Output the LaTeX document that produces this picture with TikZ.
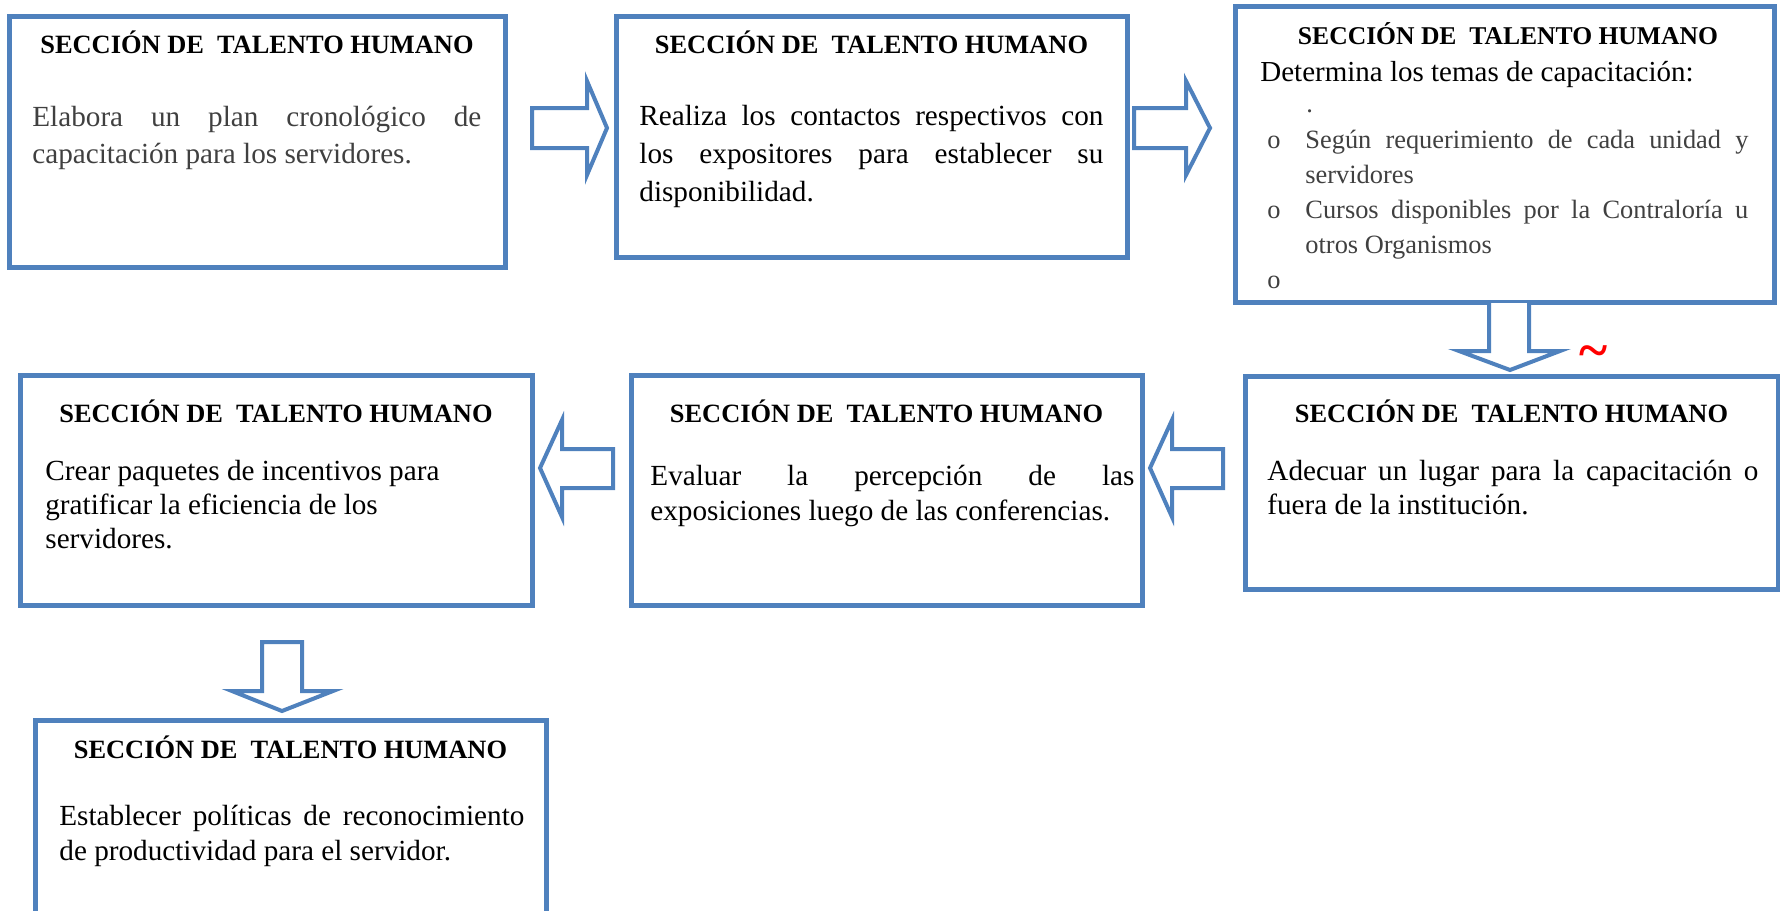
\documentclass[tikz,border=0pt]{standalone}
\usepackage{fontspec}
\setmainfont{Liberation Serif}
\definecolor{bblue}{HTML}{4F81BD}
\definecolor{txtgray}{HTML}{404040}
\hyphenpenalty=10000
\exhyphenpenalty=10000
\hbadness=10000
\begin{document}
\begin{tikzpicture}[x=0.5pt,y=-0.5pt,
  box/.style={draw=bblue, line width=2.5pt, rectangle, inner sep=0pt},
  blockarrow/.style={draw=bblue, line width=2pt, fill=white, line join=miter},
  title/.style={anchor=base, inner sep=0pt, font=\fontsize{13.2}{16}\selectfont\bfseries},
  body/.style={anchor=base west, inner sep=0pt, font=\fontsize{14.6}{18}\selectfont},
  item/.style={anchor=base west, inner sep=0pt, font=\fontsize{13.2}{17.5}\selectfont, text=txtgray},
]
\useasboundingbox (0,0) rectangle (1780,910);
\begin{scope}
\clip (0,0) rectangle (1780,910);
% boxes
\node[box, minimum width=248pt, minimum height=125.5pt] (b1) at (257,141.5) {};
\node[box, minimum width=255.5pt, minimum height=120.5pt] (b2) at (871.5,136.5) {};
\node[box, minimum width=269.5pt, minimum height=148pt] (b3) at (1504.5,154.5) {};
\node[box, minimum width=266.5pt, minimum height=106.5pt] (b4) at (1511.5,482.5) {};
\node[box, minimum width=255.5pt, minimum height=115pt] (b5) at (886.5,490) {};
\node[box, minimum width=256pt, minimum height=115pt] (b6) at (276,490) {};
\node[box, minimum width=255.5pt, minimum height=120pt] (b7) at (290.5,840) {};
\end{scope}

% block arrows
\draw[blockarrow] (532,108) -- (587,108) -- (587,81) -- (607,128) -- (587,175) -- (587,148) -- (532,148) -- cycle;
\draw[blockarrow] (1134,108) -- (1186,108) -- (1186,81) -- (1210,128) -- (1186,175) -- (1186,148) -- (1134,148) -- cycle;
\draw[blockarrow] (1489,303) -- (1489,351) -- (1459,351) -- (1510,370) -- (1560,351) -- (1529,351) -- (1529,303);
\draw[blockarrow] (1223,449) -- (1172,449) -- (1172,420) -- (1150,468) -- (1172,517) -- (1172,488) -- (1223,488) -- cycle;
\draw[blockarrow] (613,449) -- (562,449) -- (562,420) -- (540,468) -- (562,517) -- (562,488) -- (613,488) -- cycle;
\draw[blockarrow] (262,642) -- (262,691) -- (232,691) -- (282,711) -- (333,691) -- (302,691) -- (302,642) -- cycle;

\node[anchor=base, inner sep=0pt, text=red, font=\fontsize{27}{27}\selectfont\bfseries] (tl) at (1594,368) {\char"7E};

% titles
\node[title] (h1) at (257,53) {SECCIÓN DE\ \ TALENTO HUMANO};
\node[title] (h2) at (871.5,53) {SECCIÓN DE\ \ TALENTO HUMANO};
\node[title, font=\fontsize{12.8}{16}\selectfont\bfseries] (h3) at (1508,44) {SECCIÓN DE\ \ TALENTO HUMANO};
\node[title] (h4) at (1511.5,422) {SECCIÓN DE\ \ TALENTO HUMANO};
\node[title] (h5) at (886.5,422) {SECCIÓN DE\ \ TALENTO HUMANO};
\node[title] (h6) at (276,422) {SECCIÓN DE\ \ TALENTO HUMANO};
\node[title] (h7) at (290.5,758) {SECCIÓN DE\ \ TALENTO HUMANO};

% bodies
\node[body, text=txtgray] (t1) at (32,126) {\parbox[t]{224.5pt}{\baselineskip=18.5pt Elabora un plan cronológico de\linebreak capacitación para los servidores.}};
\node[body] (t2) at (639,125) {\parbox[t]{232pt}{\baselineskip=19pt Realiza los contactos respectivos con\linebreak los expositores para establecer su\linebreak disponibilidad.}};
\node[body, font=\fontsize{14.5}{18}\selectfont] (t3) at (1260,81) {Determina los temas de capacitación:};
\node[item] (d3) at (1306,112) {.};
\node[item] (o1) at (1267,148) {o};
\node[item] (i1) at (1305,148) {\parbox[t]{221.5pt}{\baselineskip=17.5pt Según requerimiento de cada unidad y\linebreak servidores}};
\node[item] (o2) at (1267,218) {o};
\node[item] (i2) at (1305,218) {\parbox[t]{221.5pt}{\baselineskip=17.5pt Cursos disponibles por la Contraloría u\linebreak otros Organismos}};
\node[item] (o3) at (1267,288) {o};
\node[body] (t4) at (1267,480) {\parbox[t]{245.5pt}{\baselineskip=17pt Adecuar un lugar para la capacitación o\linebreak fuera de la institución.}};
\node[body] (t5) at (650,485) {\parbox[t]{242pt}{\baselineskip=17.5pt Evaluar la percepción de las\linebreak exposiciones luego de las conferencias.}};
\node[body] (t6) at (45,480) {\parbox[t]{240pt}{\raggedright\baselineskip=17pt Crear paquetes de incentivos para\\gratificar la eficiencia de los\\servidores.}};
\node[body] (t7) at (59,825) {\parbox[t]{232.5pt}{\baselineskip=17.5pt Establecer políticas de reconocimiento\linebreak de productividad para el servidor.}};
\end{tikzpicture}
\end{document}
